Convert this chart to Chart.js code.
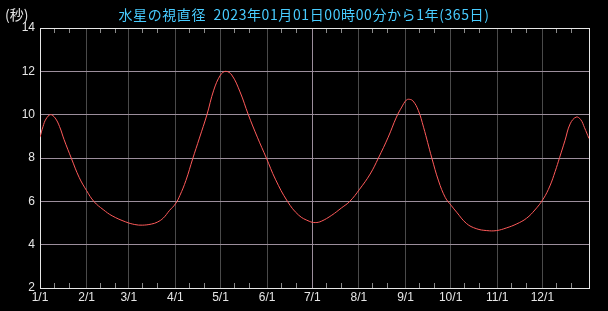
<!DOCTYPE html>
<html>
<head>
<meta charset="utf-8">
<script src="https://cdn.jsdelivr.net/npm/chart.js@4.4.1/dist/chart.umd.min.js"></script>
<style>
  html, body { margin: 0; padding: 0; background: #000; }
  #wrap { width: 608px; height: 311px; position: relative; }
</style>
</head>
<body>
<div id="wrap"><canvas id="chart" width="608" height="311"></canvas></div>
<script>
// titel en as-teksten
const titleText = '水星の視直径  2023年01月01日00時00分から1年(365日)';
const unitText = '(秒)';

// maandgrenzen (dag van het jaar, 1/1 = 0) en hun labels
const monthDays = [0, 31, 59, 90, 120, 151, 181, 212, 243, 273, 304, 334];
const monthLabels = ['1/1', '2/1', '3/1', '4/1', '5/1', '6/1', '7/1', '8/1', '9/1', '10/1', '11/1', '12/1'];

const days = [0, 2, 4, 7, 10, 13, 16, 21, 26, 31, 36, 42, 48, 57, 63, 68, 74, 78, 82, 86, 90, 93,
  97, 101.5, 106, 111, 115.5, 120, 123.5, 127.5, 133, 138.5, 144.5, 150.5, 156.5, 164.5, 172, 179,
  183, 187, 194, 200.5, 206, 212.5, 219.5, 225, 231.5, 237, 240.5, 243.5, 245.5, 248, 251.5, 255,
  260.5, 265, 269.5, 273.5, 277, 283.5, 290, 297, 303.5, 310, 317, 323.5, 329, 334.5, 339, 342.5,
  345.5, 349, 352.5, 356.5, 359.5, 362, 365];
const diameter = [8.96, 9.45, 9.8, 10.0, 9.85, 9.45, 8.85, 7.96, 7.11, 6.49, 5.98, 5.62, 5.33, 5.05,
  4.93, 4.9, 4.95, 5.04, 5.23, 5.57, 5.88, 6.27, 6.96, 7.96, 8.92, 10.0, 11.13, 11.83, 12.0, 11.83,
  11.05, 10.0, 8.96, 8.0, 7.02, 6.0, 5.36, 5.08, 5.02, 5.08, 5.36, 5.7, 6.0, 6.56, 7.26, 8.0, 8.96,
  9.89, 10.35, 10.67, 10.71, 10.63, 10.2, 9.42, 8.0, 6.94, 6.17, 5.8, 5.5, 4.98, 4.74, 4.65, 4.65,
  4.77, 4.96, 5.22, 5.6, 6.1, 6.71, 7.38, 8.03, 8.8, 9.58, 9.89, 9.77, 9.4, 8.9];

// kleine streepjes op de 10e en 20e van elke maand
const minorTickDays = [];
monthDays.forEach(d => { minorTickDays.push(d + 9, d + 19); });

const gridLight = '#9c8e9c';
const gridDark = '#4a4a4a';
const axisColor = '#e6e6e6';
const textColor = '#e6e6e6';

/* kader, streepjes en teksten rond het plotgebied */
const framePlugin = {
  id: 'frame',
  beforeDatasetsDraw(chart) {
    const { ctx, chartArea: a, scales } = chart;
    ctx.save();
    ctx.strokeStyle = '#8a8a8a';
    ctx.lineWidth = 1;
    minorTickDays.forEach(d => {
      const x = Math.round(scales.x.getPixelForValue(d)) + 0.5;
      ctx.beginPath();
      ctx.moveTo(x, a.top); ctx.lineTo(x, a.top + 5);
      ctx.moveTo(x, a.bottom); ctx.lineTo(x, a.bottom - 5);
      ctx.stroke();
    });
    ctx.strokeStyle = axisColor;
    ctx.strokeRect(Math.round(a.left) + 0.5, Math.round(a.top) + 0.5,
      Math.round(a.right - a.left), Math.round(a.bottom - a.top));
    ctx.restore();
  },
  afterDraw(chart) {
    const ctx = chart.ctx;
    ctx.save();
    ctx.textBaseline = 'middle';
    ctx.font = '14px "Noto Sans CJK JP"';
    ctx.fillStyle = textColor;
    ctx.textAlign = 'left';
    ctx.fillText(unitText, 5, 15);
    ctx.fillStyle = '#48ccff';
    ctx.textAlign = 'center';
    ctx.letterSpacing = '0.6px';
    ctx.fillText(titleText, 304, 15);
    ctx.restore();
  }
};

const ctx = document.getElementById('chart').getContext('2d');
new Chart(ctx, {
  type: 'line',
  data: {
    datasets: [{
      data: days.map((d, i) => ({ x: d, y: diameter[i] })),
      borderColor: '#ff5a5a',
      borderWidth: 1,
      pointRadius: 0,
      tension: 0.4,
      fill: false
    }]
  },
  options: {
    responsive: false,
    animation: false,
    layout: { padding: { top: 28, right: 19, left: 0, bottom: 0 } },
    plugins: { legend: { display: false }, tooltip: { enabled: false } },
    scales: {
      x: {
        type: 'linear',
        min: 0,
        max: 365,
        afterBuildTicks: scale => { scale.ticks = monthDays.map(v => ({ value: v })); },
        afterFit: scale => { scale.height = 23; },
        border: { display: false },
        grid: {
          drawTicks: false,
          color: c => (c.tick && c.tick.value === 181) ? gridLight : gridDark
        },
        ticks: {
          autoSkip: false,
          maxRotation: 0,
          padding: 2,
          color: textColor,
          font: { family: 'Liberation Sans', size: 12 },
          callback: (v, i) => monthLabels[i]
        }
      },
      y: {
        min: 2,
        max: 14,
        afterFit: scale => { scale.width = 40; },
        border: { display: false },
        grid: { drawTicks: false, color: gridLight },
        ticks: {
          stepSize: 2,
          padding: 5,
          color: textColor,
          font: { family: 'Liberation Sans', size: 12 }
        }
      }
    }
  },
  plugins: [framePlugin]
});
</script>
</body>
</html>
